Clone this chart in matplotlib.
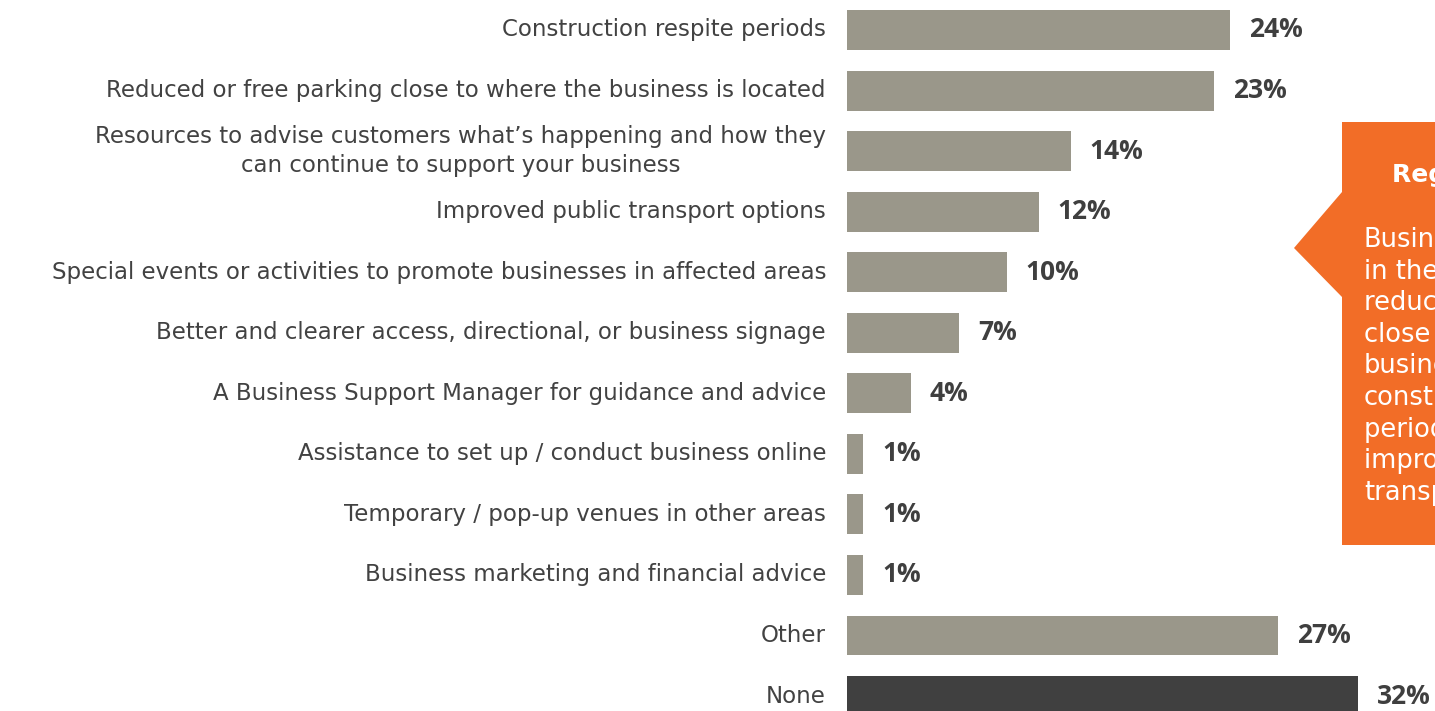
import matplotlib
matplotlib.use("Agg")
import matplotlib.pyplot as plt
from matplotlib.patches import Polygon

categories = [
    "Construction respite periods",
    "Reduced or free parking close to where the business is located",
    "Resources to advise customers what\u2019s happening and how they\ncan continue to support your business",
    "Improved public transport options",
    "Special events or activities to promote businesses in affected areas",
    "Better and clearer access, directional, or business signage",
    "A Business Support Manager for guidance and advice",
    "Assistance to set up / conduct business online",
    "Temporary / pop-up venues in other areas",
    "Business marketing and financial advice",
    "Other",
    "None",
]
values = [24, 23, 14, 12, 10, 7, 4, 1, 1, 1, 27, 32]
value_labels = ["24%", "23%", "14%", "12%", "10%", "7%", "4%", "1%", "1%", "1%", "27%", "32%"]
bar_colors = ["#9a978a"] * 11 + ["#404040"]

callout_title = "Regional insights"
callout_lines = ["Businesses", "in the region", "reduced parking", "close to the",
                 "business,", "construction", "periods and", "improved public", "transport"]

W, H = 1435, 711
fig = plt.figure(figsize=(W / 100, H / 100), dpi=100)
ax = fig.add_axes([847 / W, 0, (W - 847) / W, 1])

ypos = list(range(len(categories)))
ax.barh(ypos, values, height=0.66, color=bar_colors)
ax.set_xlim(0, (W - 847) / 15.97)
ax.set_ylim(11.247, -0.495)
ax.axis("off")

label_font = "DejaVu Sans"
for y, cat in zip(ypos, categories):
    ax.annotate(cat, xy=(0, y), xytext=(-21, 0), textcoords="offset pixels",
                ha="right", va="center", ma="center", fontsize=16.5,
                family=label_font, color="#424242", linespacing=1.35)
for y, v, lab in zip(ypos, values, value_labels):
    ax.annotate(lab, xy=(v, y), xytext=(19, 0), textcoords="offset pixels",
                ha="left", va="center", fontsize=19, fontweight="bold",
                family="Open Sans", color="#3f3f3f")

# callout box
orange = "#f26d27"
def fx(px):
    return px / W
def fy(py):
    return 1 - py / H
poly = Polygon([(fx(1342), fy(122)), (fx(1440), fy(122)), (fx(1440), fy(545)),
                (fx(1342), fy(545)), (fx(1342), fy(297)), (fx(1294), fy(248)),
                (fx(1342), fy(192))], closed=True, transform=fig.transFigure,
               facecolor=orange, edgecolor="none")
fig.patches.append(poly)
fig.text(fx(1392), fy(175), callout_title, ha="left", va="center", fontsize=18,
         fontweight="bold", family=label_font, color="white")
for i, line in enumerate(callout_lines):
    fig.text(fx(1364), fy(240 + i * 31.6), line, ha="left", va="center",
             fontsize=18.5, family=label_font, color="white")

fig.savefig("out.png", dpi=100)
